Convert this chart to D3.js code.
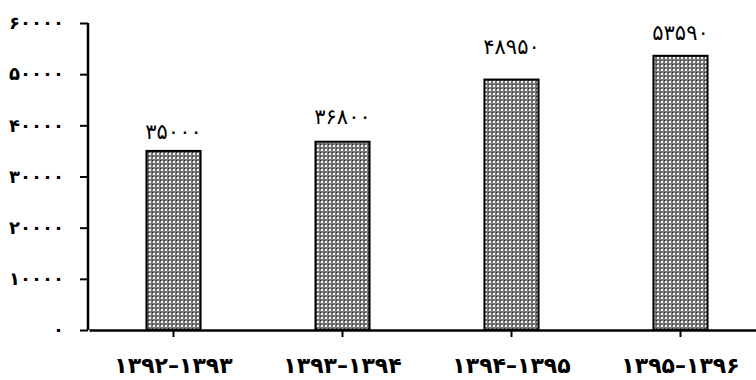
<!DOCTYPE html>
<html><head><meta charset="utf-8">
<script src="https://cdn.jsdelivr.net/npm/d3@7"></script>
<style>html,body{margin:0;padding:0;background:#fff;}svg{display:block;}</style>
</head><body>
<svg id="chart" width="756" height="380"></svg>
<script>
const categories = ["۱۳۹۲–۱۳۹۳", "۱۳۹۳–۱۳۹۴", "۱۳۹۴–۱۳۹۵", "۱۳۹۵–۱۳۹۶"];
const values = [35000, 36800, 48950, 53590];
const valueLabels = ["۳۵۰۰۰", "۳۶۸۰۰", "۴۸۹۵۰", "۵۳۵۹۰"];
const yTicks = [0, 10000, 20000, 30000, 40000, 50000, 60000];
const yTickLabels = ["۰", "۱۰۰۰۰", "۲۰۰۰۰", "۳۰۰۰۰", "۴۰۰۰۰", "۵۰۰۰۰", "۶۰۰۰۰"];
const labelGap = [19, 25, 33, 23];

const svg = d3.select("#chart");
const defs = svg.append("defs");
const pat = defs.append("pattern").attr("id","dots").attr("patternUnits","userSpaceOnUse")
  .attr("width",4).attr("height",4);
pat.append("rect").attr("width",4).attr("height",4).attr("fill","#767676");
pat.append("rect").attr("x",1).attr("y",1).attr("width",2).attr("height",2).attr("fill","#f0f0f0");
pat.append("rect").attr("x",0).attr("y",0).attr("width",1).attr("height",1).attr("fill","#2a2a2a");

const x = d3.scaleBand().domain(categories).range([89, 765]).paddingInner(0.68).paddingOuter(0.34);
const y = d3.scaleLinear().domain([0, 60000]).range([330, 23]);

const font = "'DejaVu Sans', sans-serif";

// bars
svg.selectAll("rect.bar").data(values).join("rect").attr("class","bar")
  .attr("x",(d,i)=>x(categories[i])).attr("y",d=>y(d))
  .attr("width",x.bandwidth()).attr("height",d=>y(0)-y(d))
  .attr("fill","url(#dots)").attr("stroke","#000").attr("stroke-width",2);

// value labels
svg.selectAll("text.val").data(values).join("text").attr("class","val")
  .attr("x",(d,i)=>x(categories[i])+x.bandwidth()/2)
  .attr("y",(d,i)=>y(d)-labelGap[i])
  .attr("dy","0.35em").attr("text-anchor","middle")
  .attr("font-family",font).attr("font-size",21).attr("fill","#000")
  .text((d,i)=>valueLabels[i]);

// y axis
const yAxis = d3.axisLeft(y).tickValues(yTicks).tickSize(8).tickPadding(16)
  .tickFormat((d,i)=>yTickLabels[i]);
const gy = svg.append("g").attr("transform","translate(88,0)").call(yAxis);
gy.select(".domain").attr("d", `M0,${y(60000)}V${y(0)}`).attr("stroke","#000").attr("stroke-width",2.5);
gy.selectAll(".tick line").attr("stroke","#000").attr("stroke-width",2);
gy.selectAll(".tick text").attr("font-family",font).attr("font-weight","bold").attr("font-size",18).attr("fill","#000");

// x axis
const xAxis = d3.axisBottom(x).tickSize(7).tickPadding(20).tickSizeOuter(0);
const gx = svg.append("g").attr("transform",`translate(0,${y(0)})`).call(xAxis);
gx.select(".domain").attr("stroke","#000").attr("stroke-width",2.5);
gx.selectAll(".tick line").attr("stroke","#000").attr("stroke-width",2);
gx.selectAll(".tick text").attr("font-family",font).attr("font-weight","bold").attr("font-size",22).attr("fill","#000");
</script>
</body></html>
